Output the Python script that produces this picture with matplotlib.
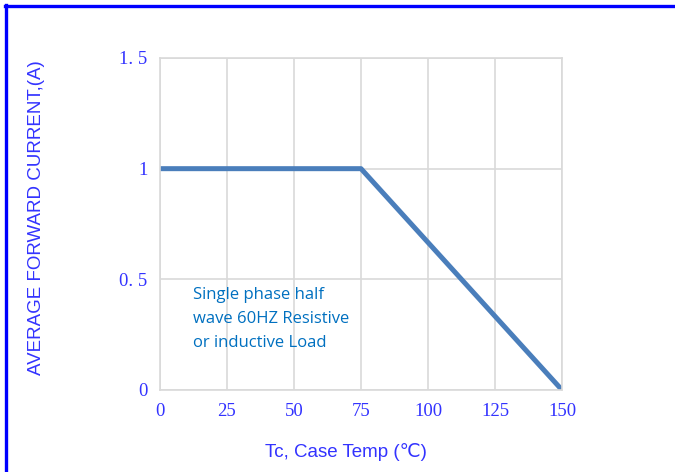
import matplotlib
matplotlib.use("Agg")
import matplotlib.pyplot as plt
from matplotlib.lines import Line2D

# derating curve
case_temp = [0, 25, 50, 75, 100, 125, 150]
avg_current = [1.0, 1.0, 1.0, 1.0, 0.6667, 0.3333, 0.0]

xticks = [0, 25, 50, 75, 100, 125, 150]
yticks = [0, 0.5, 1, 1.5]
ytick_labels = ["0", "0. 5", "1", "1. 5"]

note = "Single phase half\nwave 60HZ Resistive\nor inductive Load"

blue = "#3333ff"

fig = plt.figure(figsize=(6.75, 4.72), dpi=100)
ax = fig.add_axes([160 / 675, 1 - 390 / 472, 402 / 675, 332 / 472])

ax.plot(case_temp, avg_current, color="#4a7ebb", linewidth=3.6, solid_capstyle="butt")

ax.set_xlim(0, 150)
ax.set_ylim(0, 1.5)
ax.set_xticks(xticks)
ax.set_yticks(yticks)
ax.set_yticklabels(ytick_labels)
ax.grid(True, color="#d9d9d9", linewidth=1.2)
ax.set_axisbelow(True)
for s in ax.spines.values():
    s.set_color("#d9d9d9")
    s.set_linewidth(1.2)
ax.tick_params(length=0, pad=9, labelcolor=blue, labelsize=13.5)
for lab in ax.get_xticklabels() + ax.get_yticklabels():
    lab.set_fontfamily("Liberation Serif")

ax.set_xlabel("Tc, Case Temp (\u2103)", color=blue, fontsize=13.5,
              family=["Liberation Sans", "DejaVu Sans"])
ax.xaxis.set_label_coords(0.5 - 15 / 402, -53 / 332)
ax.set_ylabel("AVERAGE FORWARD CURRENT,(A)", color=blue, fontsize=13.5,
              family="Liberation Sans")
ax.yaxis.set_label_coords(-115 / 402, 0.5 + 6 / 332)

ax.text(33 / 402, 103 / 332, note, transform=ax.transAxes, color="#0070c0",
        fontsize=12, family="Open Sans", va="top", linespacing=1.65)

# blue frame on top and left edges
fig.add_artist(Line2D([5.5 / 675, 1], [1 - 6 / 472, 1 - 6 / 472], color="#0000ff",
                      linewidth=2.4, transform=fig.transFigure))
fig.add_artist(Line2D([6 / 675, 6 / 675], [0, 1 - 5 / 472], color="#0000ff",
                      linewidth=2.4, transform=fig.transFigure))

fig.savefig("out.png", dpi=100)
